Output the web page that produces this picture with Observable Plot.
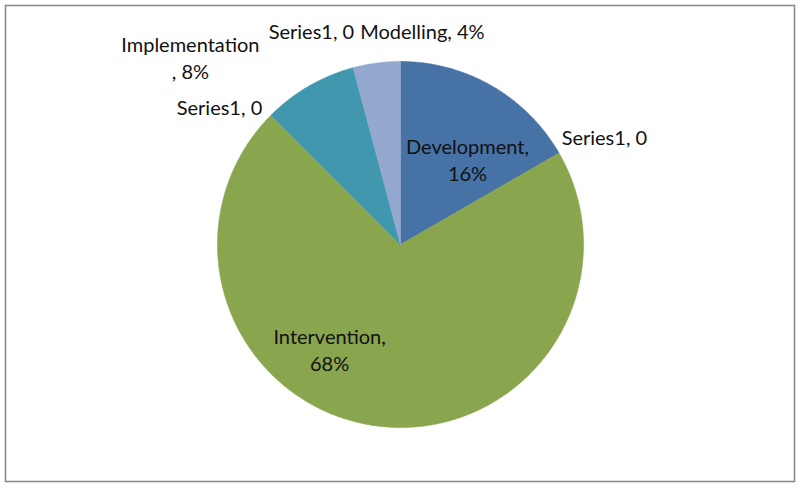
<!DOCTYPE html>
<html>
<head>
<meta charset="utf-8">
<script src="https://cdn.jsdelivr.net/npm/d3@7"></script>
<script src="https://cdn.jsdelivr.net/npm/@observablehq/plot@0.6"></script>
<style>
  html, body { margin: 0; padding: 0; background: #fff; }
  #chart { width: 800px; height: 488px; }
</style>
</head>
<body>
<div id="chart"></div>
<script>
// ---- data (clockwise from 12 o'clock) ----
const categories = ["Development", "Series1", "Intervention", "Series1", "Implementation", "Series1", "Modelling"];
const values     = [4, 0, 17, 0, 2, 0, 1];
const labelTexts = ["Development,\n16%", "Series1, 0", "Intervention,\n68%", "Series1, 0", "Implementation\n, 8%", "Series1, 0", "Modelling, 4%"];

// ---- layout / style ----
const colorDomain = ["Development", "Intervention", "Implementation", "Modelling"];
const colorRange  = ["#4672A6", "#89A54E", "#4198AE", "#94A8CF"];
const W = 800, H = 488, CX = 400, CY = 244, R = 183;
// label anchor positions in polar form (degrees clockwise from top, radius in pie radii)
const labelTheta = [38.6, 62.5, 213.6, 306.9, 311.5, 337.2, 5.9];
const labelRho   = [0.587, 1.256, 0.70, 1.237, 1.533, 1.256, 1.165];

// ---- geometry from data ----
const arcs = d3.pie().sort(null).value(d => d)(values);
const slicePts = [];
arcs.forEach((a, i) => {
  if (a.endAngle - a.startAngle <= 0) return;
  const key = i;
  slicePts.push({key, name: categories[i], x: 0, y: 0});
  const n = Math.max(4, Math.ceil((a.endAngle - a.startAngle) / 0.01));
  for (let k = 0; k <= n; k++) {
    const t = a.startAngle + (a.endAngle - a.startAngle) * k / n;
    slicePts.push({key, name: categories[i], x: Math.sin(t), y: Math.cos(t)});
  }
  slicePts.push({key, name: categories[i], x: 0, y: 0});
});

const labels = labelTexts.map((text, i) => {
  const t = labelTheta[i] * Math.PI / 180;
  return {text, x: labelRho[i] * Math.sin(t), y: labelRho[i] * Math.cos(t)};
});

const chart = Plot.plot({
  width: W,
  height: H,
  margin: 0,
  style: {background: "#fff", fontFamily: "Lato, 'Open Sans', sans-serif"},
  x: {domain: [-CX / R, (W - CX) / R], range: [0, W], axis: null},
  y: {domain: [-(H - CY) / R, CY / R], range: [H, 0], axis: null},
  color: {domain: colorDomain, range: colorRange},
  marks: [
    Plot.line(slicePts, {x: "x", y: "y", z: "key", fill: "name", stroke: "name", strokeWidth: 0.6, curve: "linear"}),
    Plot.text(labels, {x: "x", y: "y", text: "text", fontSize: 20, lineHeight: 1.35, dy: -2, fill: "#111", textAnchor: "middle"}),
    Plot.frame({stroke: "#8c8c8c", strokeWidth: 1.6, insetLeft: 5, insetTop: 5, insetRight: 6, insetBottom: 7})
  ]
});
document.getElementById("chart").appendChild(chart);
</script>
</body>
</html>
